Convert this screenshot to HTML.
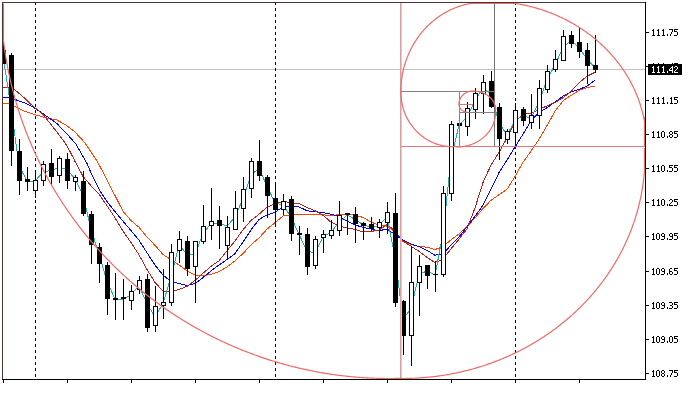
<!DOCTYPE html><html><head><meta charset="utf-8"><style>html,body{margin:0;padding:0;background:#fff;overflow:hidden;}svg{display:block;}text{font-family:"Liberation Sans",sans-serif;}</style></head><body>
<svg width="694" height="400" viewBox="0 0 694 400">
<defs><clipPath id="cl"><rect x="3" y="3" width="642" height="376"/></clipPath></defs>
<rect x="0" y="0" width="694" height="400" fill="#fff"/>
<g clip-path="url(#cl)">
<rect x="3" y="69" width="642" height="1" fill="#c3c3c3"/>
<line x1="35.5" y1="3" x2="35.5" y2="379" stroke="#000" stroke-width="1" stroke-dasharray="3 3" stroke-dashoffset="1" shape-rendering="crispEdges"/>
<line x1="275.5" y1="3" x2="275.5" y2="379" stroke="#000" stroke-width="1" stroke-dasharray="3 3" stroke-dashoffset="1" shape-rendering="crispEdges"/>
<line x1="515.5" y1="3" x2="515.5" y2="379" stroke="#000" stroke-width="1" stroke-dasharray="3 3" stroke-dashoffset="1" shape-rendering="crispEdges"/>
<path d="M2.00,103.40 L10.00,103.68 L14.00,106.22 L25.00,111.51 L35.50,114.77 L46.00,117.79 L56.50,119.91 L65.30,124.62 L74.00,131.02 L85.00,142.91 L97.50,161.74 L104.50,175.09 L111.50,189.33 L115.00,195.61 L123.00,211.25 L131.00,220.61 L139.00,227.25 L147.00,236.95 L155.00,245.35 L163.00,254.52 L171.00,259.52 L179.00,264.92 L187.00,270.79 L195.00,275.02 L203.00,275.85 L211.00,274.29 L219.00,271.74 L227.00,266.94 L235.00,260.83 L243.00,253.54 L251.00,244.84 L259.00,237.92 L267.00,229.17 L275.00,222.73 L283.00,216.00 L291.00,214.78 L299.00,214.52 L307.00,214.40 L315.00,214.32 L323.00,214.85 L331.00,215.45 L339.00,214.73 L347.00,213.97 L355.00,215.02 L363.00,217.45 L371.00,222.03 L379.00,225.07 L387.00,226.10 L395.00,232.30 L403.00,241.30 L411.00,244.52 L419.00,246.61 L427.00,247.18 L435.00,249.53 L443.00,246.80 L451.00,239.75 L459.00,233.82 L467.00,226.70 L475.00,218.00 L483.00,208.44 L491.00,200.27 L499.00,194.74 L507.00,189.37 L515.00,176.54 L523.00,162.26 L531.00,151.14 L539.00,139.26 L547.00,125.64 L555.00,111.26 L563.00,100.79 L571.00,95.42 L579.00,90.49 L587.00,87.69 L595.00,86.11" fill="none" stroke="#ff4500" stroke-width="1" shape-rendering="crispEdges"/>
<path d="M2.00,97.50 L10.00,97.74 L14.00,99.16 L25.00,102.94 L35.50,108.50 L46.00,115.82 L56.50,123.13 L67.00,133.95 L75.80,143.91 L80.00,151.09 L87.00,163.55 L91.00,172.67 L99.00,189.33 L107.00,201.67 L115.00,211.59 L123.00,221.31 L131.00,230.56 L139.00,240.22 L147.00,252.78 L155.00,265.11 L163.00,275.17 L171.00,281.42 L179.00,283.53 L187.00,285.55 L195.00,283.59 L203.00,277.57 L211.00,271.02 L219.00,264.95 L227.00,259.57 L235.00,253.57 L243.00,242.04 L251.00,229.92 L259.00,219.48 L267.00,214.83 L275.00,212.38 L283.00,206.69 L291.00,206.12 L299.00,206.85 L307.00,210.69 L315.00,211.81 L323.00,212.46 L331.00,214.29 L339.00,216.44 L347.00,220.98 L355.00,224.94 L363.00,227.40 L371.00,229.04 L379.00,230.81 L387.00,228.98 L395.00,234.60 L403.00,240.31 L411.00,243.88 L419.00,246.55 L427.00,250.35 L435.00,255.31 L443.00,253.50 L451.00,245.21 L459.00,236.90 L467.00,226.81 L475.00,216.10 L483.00,205.32 L491.00,189.01 L499.00,172.61 L507.00,160.05 L515.00,147.02 L523.00,134.15 L531.00,120.89 L539.00,112.13 L547.00,107.72 L555.00,102.11 L563.00,96.12 L571.00,91.99 L579.00,89.46 L587.00,86.08 L595.00,80.31" fill="none" stroke="#0000ff" stroke-width="1" shape-rendering="crispEdges"/>
<path d="M2.00,87.40 L10.00,87.59 L14.00,89.04 L25.00,98.46 L30.00,103.43 L35.50,108.31 L42.50,113.73 L49.50,122.65 L60.00,136.01 L67.00,145.88 L74.00,159.15 L75.00,161.38 L83.00,176.35 L91.00,185.75 L99.00,194.10 L107.00,205.75 L115.00,217.71 L123.00,231.17 L131.00,242.57 L139.00,254.77 L147.00,269.46 L155.00,282.36 L163.00,291.13 L171.00,291.88 L179.00,289.38 L187.00,286.41 L195.00,280.50 L203.00,273.26 L211.00,266.26 L219.00,260.83 L227.00,250.72 L235.00,240.93 L243.00,229.70 L251.00,220.55 L259.00,214.28 L267.00,207.03 L275.00,203.93 L283.00,201.35 L291.00,202.62 L299.00,203.55 L307.00,207.60 L315.00,210.72 L323.00,215.22 L331.00,222.18 L339.00,226.05 L347.00,227.93 L355.00,229.35 L363.00,231.88 L371.00,231.43 L379.00,230.10 L387.00,224.57 L395.00,230.90 L403.00,241.03 L411.00,246.22 L419.00,251.37 L427.00,257.43 L435.00,262.50 L443.00,259.25 L451.00,248.75 L459.00,239.18 L467.00,228.82 L475.00,207.90 L483.00,182.58 L491.00,165.06 L499.00,152.30 L507.00,137.86 L515.00,121.41 L523.00,114.21 L531.00,113.32 L539.00,109.53 L547.00,105.84 L555.00,102.39 L563.00,97.78 L571.00,91.47 L579.00,82.80 L587.00,76.30 L595.00,72.25" fill="none" stroke="#b22222" stroke-width="1" shape-rendering="crispEdges"/>
<path d="M3.00,56.00 L11.00,107.25 L19.00,165.50 L27.00,181.25 L35.00,181.00 L43.00,172.00 L51.00,170.50 L59.00,167.50 L67.00,169.38 L75.00,178.88 L83.00,195.38 L91.00,229.12 L99.00,254.25 L107.00,281.25 L115.00,299.05 L123.00,299.10 L131.00,294.80 L139.00,285.50 L147.00,303.80 L155.00,316.80 L163.00,303.75 L171.00,276.75 L179.00,245.50 L187.00,253.88 L195.00,254.62 L203.00,233.38 L211.00,223.62 L219.00,223.38 L227.00,226.12 L235.00,217.25 L243.00,198.62 L251.00,174.88 L259.00,168.38 L267.00,186.25 L275.00,202.88 L283.00,205.00 L291.00,217.12 L299.00,234.38 L307.00,251.00 L315.00,253.12 L323.00,236.75 L331.00,232.12 L339.00,222.50 L347.00,215.00 L355.00,219.38 L363.00,224.75 L371.00,227.50 L379.00,225.50 L387.00,216.75 L395.00,257.12 L403.00,319.00 L411.00,308.75 L419.00,274.20 L427.00,271.00 L435.00,275.05 L443.00,233.88 L451.00,158.75 L459.00,125.12 L467.00,117.10 L475.00,100.75 L483.00,87.80 L491.00,94.55 L499.00,122.78 L507.00,135.00 L515.00,120.62 L523.00,115.62 L531.00,118.28 L539.00,101.75 L547.00,79.72 L555.00,65.00 L563.00,47.50 L571.00,40.00 L579.00,47.88 L587.00,59.12 L595.00,67.88" fill="none" stroke="#20b2aa" stroke-width="1" shape-rendering="crispEdges"/>
<g shape-rendering="crispEdges">
<rect x="3" y="36" width="1" height="28" fill="#000"/>
<rect x="1" y="50" width="5" height="14" fill="#000"/>
<rect x="11" y="53" width="1" height="113" fill="#000"/>
<rect x="9" y="55" width="5" height="96" fill="#000"/>
<rect x="19" y="139" width="1" height="56" fill="#000"/>
<rect x="17" y="151" width="5" height="30" fill="#000"/>
<rect x="27" y="167" width="1" height="24" fill="#000"/>
<rect x="25" y="179" width="5" height="3" fill="#000"/>
<rect x="35" y="170" width="1" height="28" fill="#000"/>
<rect x="33.5" y="180.5" width="4" height="10" fill="#fff" stroke="#000" stroke-width="1"/>
<rect x="43" y="161" width="1" height="25" fill="#000"/>
<rect x="41.5" y="164.5" width="4" height="16" fill="#fff" stroke="#000" stroke-width="1"/>
<rect x="51" y="149" width="1" height="36" fill="#000"/>
<rect x="49" y="163" width="5" height="14" fill="#000"/>
<rect x="59" y="156" width="1" height="27" fill="#000"/>
<rect x="57.5" y="158.5" width="4" height="17" fill="#fff" stroke="#000" stroke-width="1"/>
<rect x="67" y="153" width="1" height="36" fill="#000"/>
<rect x="65" y="159" width="5" height="22" fill="#000"/>
<rect x="75" y="175" width="1" height="16" fill="#000"/>
<rect x="73.5" y="177.5" width="4" height="4" fill="#fff" stroke="#000" stroke-width="1"/>
<rect x="83" y="171" width="1" height="45" fill="#000"/>
<rect x="81" y="181" width="5" height="33" fill="#000"/>
<rect x="91" y="211" width="1" height="53" fill="#000"/>
<rect x="89" y="214" width="5" height="31" fill="#000"/>
<rect x="99" y="243" width="1" height="40" fill="#000"/>
<rect x="97" y="247" width="5" height="17" fill="#000"/>
<rect x="107" y="262" width="1" height="53" fill="#000"/>
<rect x="105" y="265" width="5" height="34" fill="#000"/>
<rect x="115" y="273" width="1" height="47" fill="#000"/>
<rect x="113" y="298" width="5" height="2" fill="#000"/>
<rect x="123" y="279" width="1" height="41" fill="#000"/>
<rect x="121" y="297" width="5" height="2" fill="#000"/>
<rect x="131" y="285" width="1" height="25" fill="#000"/>
<rect x="129.5" y="291.5" width="4" height="9" fill="#fff" stroke="#000" stroke-width="1"/>
<rect x="139" y="276" width="1" height="18" fill="#000"/>
<rect x="137.5" y="280.5" width="4" height="9" fill="#fff" stroke="#000" stroke-width="1"/>
<rect x="147" y="274" width="1" height="58" fill="#000"/>
<rect x="145" y="279" width="5" height="49" fill="#000"/>
<rect x="155" y="286" width="1" height="46" fill="#000"/>
<rect x="153.5" y="306.5" width="4" height="19" fill="#fff" stroke="#000" stroke-width="1"/>
<rect x="163" y="269" width="1" height="50" fill="#000"/>
<rect x="161.5" y="302.5" width="4" height="3" fill="#fff" stroke="#000" stroke-width="1"/>
<rect x="171" y="244" width="1" height="62" fill="#000"/>
<rect x="169.5" y="252.5" width="4" height="50" fill="#fff" stroke="#000" stroke-width="1"/>
<rect x="179" y="231" width="1" height="32" fill="#000"/>
<rect x="177.5" y="239.5" width="4" height="11" fill="#fff" stroke="#000" stroke-width="1"/>
<rect x="187" y="236" width="1" height="40" fill="#000"/>
<rect x="185" y="241" width="5" height="28" fill="#000"/>
<rect x="195" y="241" width="1" height="62" fill="#000"/>
<rect x="193.5" y="241.5" width="4" height="25" fill="#fff" stroke="#000" stroke-width="1"/>
<rect x="203" y="205" width="1" height="39" fill="#000"/>
<rect x="201.5" y="226.5" width="4" height="15" fill="#fff" stroke="#000" stroke-width="1"/>
<rect x="211" y="188" width="1" height="52" fill="#000"/>
<rect x="209.5" y="221.5" width="4" height="4" fill="#fff" stroke="#000" stroke-width="1"/>
<rect x="219" y="206" width="1" height="43" fill="#000"/>
<rect x="217" y="220" width="5" height="6" fill="#000"/>
<rect x="227" y="216" width="1" height="43" fill="#000"/>
<rect x="225.5" y="227.5" width="4" height="18" fill="#fff" stroke="#000" stroke-width="1"/>
<rect x="235" y="191" width="1" height="39" fill="#000"/>
<rect x="233.5" y="208.5" width="4" height="21" fill="#fff" stroke="#000" stroke-width="1"/>
<rect x="243" y="177" width="1" height="45" fill="#000"/>
<rect x="241.5" y="189.5" width="4" height="19" fill="#fff" stroke="#000" stroke-width="1"/>
<rect x="251" y="158" width="1" height="40" fill="#000"/>
<rect x="249.5" y="161.5" width="4" height="27" fill="#fff" stroke="#000" stroke-width="1"/>
<rect x="259" y="140" width="1" height="41" fill="#000"/>
<rect x="257" y="161" width="5" height="15" fill="#000"/>
<rect x="267" y="175" width="1" height="43" fill="#000"/>
<rect x="265" y="177" width="5" height="19" fill="#000"/>
<rect x="275" y="183" width="1" height="43" fill="#000"/>
<rect x="273" y="198" width="5" height="12" fill="#000"/>
<rect x="283" y="194" width="1" height="21" fill="#000"/>
<rect x="281.5" y="201.5" width="4" height="8" fill="#fff" stroke="#000" stroke-width="1"/>
<rect x="291" y="196" width="1" height="45" fill="#000"/>
<rect x="289" y="199" width="5" height="35" fill="#000"/>
<rect x="299" y="226" width="1" height="29" fill="#000"/>
<rect x="297" y="233" width="5" height="2" fill="#000"/>
<rect x="307" y="228" width="1" height="47" fill="#000"/>
<rect x="305" y="234" width="5" height="33" fill="#000"/>
<rect x="315" y="236" width="1" height="33" fill="#000"/>
<rect x="313.5" y="239.5" width="4" height="26" fill="#fff" stroke="#000" stroke-width="1"/>
<rect x="323" y="230" width="1" height="23" fill="#000"/>
<rect x="321.5" y="234.5" width="4" height="3" fill="#fff" stroke="#000" stroke-width="1"/>
<rect x="331" y="220" width="1" height="19" fill="#000"/>
<rect x="329.5" y="230.5" width="4" height="5" fill="#fff" stroke="#000" stroke-width="1"/>
<rect x="339" y="201" width="1" height="35" fill="#000"/>
<rect x="337.5" y="215.5" width="4" height="15" fill="#fff" stroke="#000" stroke-width="1"/>
<rect x="347" y="213" width="1" height="22" fill="#000"/>
<rect x="345" y="213" width="5" height="2" fill="#000"/>
<rect x="355" y="207" width="1" height="36" fill="#000"/>
<rect x="353" y="214" width="5" height="10" fill="#000"/>
<rect x="363" y="222" width="1" height="18" fill="#000"/>
<rect x="361" y="223" width="5" height="3" fill="#000"/>
<rect x="371" y="217" width="1" height="14" fill="#000"/>
<rect x="369" y="224" width="5" height="5" fill="#000"/>
<rect x="379" y="219" width="1" height="19" fill="#000"/>
<rect x="377.5" y="222.5" width="4" height="5" fill="#fff" stroke="#000" stroke-width="1"/>
<rect x="387" y="202" width="1" height="32" fill="#000"/>
<rect x="385.5" y="212.5" width="4" height="10" fill="#fff" stroke="#000" stroke-width="1"/>
<rect x="395" y="193" width="1" height="114" fill="#000"/>
<rect x="393" y="213" width="5" height="90" fill="#000"/>
<rect x="403" y="300" width="1" height="55" fill="#000"/>
<rect x="401" y="301" width="5" height="35" fill="#000"/>
<rect x="411" y="246" width="1" height="120" fill="#000"/>
<rect x="409.5" y="282.5" width="4" height="53" fill="#fff" stroke="#000" stroke-width="1"/>
<rect x="419" y="255" width="1" height="61" fill="#000"/>
<rect x="417.5" y="266.5" width="4" height="16" fill="#fff" stroke="#000" stroke-width="1"/>
<rect x="427" y="265" width="1" height="24" fill="#000"/>
<rect x="425" y="265" width="5" height="11" fill="#000"/>
<rect x="435" y="261" width="1" height="31" fill="#000"/>
<rect x="433" y="274" width="5" height="1" fill="#000"/>
<rect x="443" y="186" width="1" height="91" fill="#000"/>
<rect x="441.5" y="193.5" width="4" height="81" fill="#fff" stroke="#000" stroke-width="1"/>
<rect x="451" y="121" width="1" height="80" fill="#000"/>
<rect x="449.5" y="124.5" width="4" height="69" fill="#fff" stroke="#000" stroke-width="1"/>
<rect x="459" y="121" width="1" height="9" fill="#000"/>
<rect x="457" y="123" width="5" height="3" fill="#000"/>
<rect x="467" y="102" width="1" height="34" fill="#000"/>
<rect x="465.5" y="108.5" width="4" height="18" fill="#fff" stroke="#000" stroke-width="1"/>
<rect x="475" y="88" width="1" height="31" fill="#000"/>
<rect x="473.5" y="93.5" width="4" height="16" fill="#fff" stroke="#000" stroke-width="1"/>
<rect x="483" y="75" width="1" height="39" fill="#000"/>
<rect x="481.5" y="82.5" width="4" height="11" fill="#fff" stroke="#000" stroke-width="1"/>
<rect x="491" y="71" width="1" height="37" fill="#000"/>
<rect x="489" y="81" width="5" height="26" fill="#000"/>
<rect x="499" y="103" width="1" height="57" fill="#000"/>
<rect x="497" y="107" width="5" height="32" fill="#000"/>
<rect x="507" y="129" width="1" height="15" fill="#000"/>
<rect x="505.5" y="131.5" width="4" height="8" fill="#fff" stroke="#000" stroke-width="1"/>
<rect x="515" y="103" width="1" height="45" fill="#000"/>
<rect x="513.5" y="110.5" width="4" height="22" fill="#fff" stroke="#000" stroke-width="1"/>
<rect x="523" y="107" width="1" height="19" fill="#000"/>
<rect x="521" y="109" width="5" height="12" fill="#000"/>
<rect x="531" y="94" width="1" height="35" fill="#000"/>
<rect x="529.5" y="115.5" width="4" height="7" fill="#fff" stroke="#000" stroke-width="1"/>
<rect x="539" y="80" width="1" height="49" fill="#000"/>
<rect x="537.5" y="88.5" width="4" height="27" fill="#fff" stroke="#000" stroke-width="1"/>
<rect x="547" y="65" width="1" height="28" fill="#000"/>
<rect x="545.5" y="71.5" width="4" height="18" fill="#fff" stroke="#000" stroke-width="1"/>
<rect x="555" y="50" width="1" height="22" fill="#000"/>
<rect x="553.5" y="59.5" width="4" height="10" fill="#fff" stroke="#000" stroke-width="1"/>
<rect x="563" y="30" width="1" height="31" fill="#000"/>
<rect x="561.5" y="36.5" width="4" height="24" fill="#fff" stroke="#000" stroke-width="1"/>
<rect x="571" y="31" width="1" height="17" fill="#000"/>
<rect x="569" y="35" width="5" height="9" fill="#000"/>
<rect x="579" y="28" width="1" height="30" fill="#000"/>
<rect x="577" y="42" width="5" height="10" fill="#000"/>
<rect x="587" y="43" width="1" height="41" fill="#000"/>
<rect x="585" y="50" width="5" height="16" fill="#000"/>
<rect x="595" y="35" width="1" height="38" fill="#000"/>
<rect x="593" y="65" width="5" height="5" fill="#000"/>
</g>
<g shape-rendering="crispEdges">
<rect x="400" y="3" width="1" height="376" fill="#d8a0a0"/>
<rect x="401" y="3" width="1" height="376" fill="#f8c0c0"/>
<rect x="401" y="146" width="244" height="1" fill="#e07878"/>
<rect x="494" y="3" width="1" height="143" fill="#707070"/>
<rect x="401" y="91" width="93" height="1" fill="#8c7d7d"/>
<rect x="459" y="92" width="1" height="54" fill="#8c8080"/>
<rect x="460" y="112" width="34" height="1" fill="#8c7d7d"/>
<rect x="460" y="104" width="13" height="1" fill="#e07878"/>
</g>
<path d="M402.53,378.27 L401.73,378.29 L400.94,378.32 L400.15,378.34 L399.36,378.36 L398.57,378.38 L397.78,378.40 L396.99,378.42 L396.20,378.43 L395.41,378.45 L394.61,378.46 L393.82,378.47 L393.03,378.48 L392.24,378.49 L391.45,378.49 L390.66,378.50 L389.87,378.50 L389.07,378.50 L388.28,378.50 L387.49,378.50 L386.70,378.49 L385.91,378.49 L385.12,378.48 L384.32,378.47 L383.53,378.46 L382.74,378.45 L381.95,378.44 L381.16,378.42 L380.37,378.41 L379.58,378.39 L378.79,378.37 L377.99,378.35 L377.20,378.32 L376.41,378.30 L375.62,378.27 L374.83,378.25 L374.04,378.22 L373.25,378.19 L372.46,378.15 L371.67,378.12 L370.88,378.08 L370.09,378.05 L369.30,378.01 L368.50,377.97 L367.71,377.93 L366.92,377.88 L366.13,377.84 L365.34,377.79 L364.55,377.74 L363.76,377.69 L362.97,377.64 L362.18,377.59 L361.40,377.53 L360.61,377.48 L359.82,377.42 L359.03,377.36 L358.24,377.30 L357.45,377.24 L356.66,377.17 L355.87,377.11 L355.08,377.04 L354.30,376.97 L353.51,376.90 L352.72,376.83 L351.93,376.75 L351.14,376.68 L350.36,376.60 L349.57,376.52 L348.78,376.44 L347.99,376.36 L347.21,376.28 L346.42,376.19 L345.63,376.11 L344.85,376.02 L344.06,375.93 L343.27,375.84 L342.49,375.75 L341.70,375.65 L340.92,375.56 L340.13,375.46 L339.35,375.36 L338.56,375.26 L337.78,375.16 L336.99,375.05 L336.21,374.95 L335.42,374.84 L334.64,374.73 L333.86,374.62 L333.07,374.51 L332.29,374.40 L331.51,374.29 L330.73,374.17 L329.94,374.05 L329.16,373.93 L328.38,373.81 L327.60,373.69 L326.82,373.56 L326.04,373.44 L325.25,373.31 L324.47,373.18 L323.69,373.05 L322.91,372.92 L322.13,372.79 L321.35,372.65 L320.57,372.51 L319.80,372.38 L319.02,372.24 L318.24,372.10 L317.46,371.95 L316.68,371.81 L315.91,371.66 L315.13,371.51 L314.35,371.37 L313.57,371.21 L312.80,371.06 L312.02,370.91 L311.25,370.75 L310.47,370.60 L309.70,370.44 L308.92,370.28 L308.15,370.12 L307.37,369.95 L306.60,369.79 L305.83,369.62 L305.05,369.45 L304.28,369.29 L303.51,369.11 L302.74,368.94 L301.97,368.77 L301.19,368.59 L300.42,368.41 L299.65,368.24 L298.88,368.06 L298.11,367.87 L297.34,367.69 L296.58,367.51 L295.81,367.32 L295.04,367.13 L294.27,366.94 L293.50,366.75 L292.74,366.56 L291.97,366.36 L291.20,366.17 L290.44,365.97 L289.67,365.77 L288.91,365.57 L288.14,365.37 L287.38,365.17 L286.62,364.96 L285.85,364.76 L285.09,364.55 L284.33,364.34 L283.57,364.13 L282.80,363.92 L282.04,363.70 L281.28,363.49 L280.52,363.27 L279.76,363.05 L279.00,362.83 L278.24,362.61 L277.49,362.39 L276.73,362.16 L275.97,361.93 L275.21,361.71 L274.46,361.48 L273.70,361.25 L272.95,361.01 L272.19,360.78 L271.44,360.54 L270.68,360.31 L269.93,360.07 L269.18,359.83 L268.42,359.59 L267.67,359.35 L266.92,359.10 L266.17,358.85 L265.42,358.61 L264.67,358.36 L263.92,358.11 L263.17,357.86 L262.42,357.60 L261.67,357.35 L260.93,357.09 L260.18,356.83 L259.43,356.57 L258.69,356.31 L257.94,356.05 L257.20,355.79 L256.45,355.52 L255.71,355.25 L254.97,354.99 L254.22,354.72 L253.48,354.44 L252.74,354.17 L252.00,353.90 L251.26,353.62 L250.52,353.34 L249.78,353.06 L249.04,352.78 L248.30,352.50 L247.57,352.22 L246.83,351.93 L246.09,351.65 L245.36,351.36 L244.62,351.07 L243.89,350.78 L243.15,350.49 L242.42,350.19 L241.69,349.90 L240.96,349.60 L240.23,349.30 L239.49,349.00 L238.76,348.70 L238.03,348.40 L237.31,348.10 L236.58,347.79 L235.85,347.48 L235.12,347.18 L234.40,346.87 L233.67,346.56 L232.95,346.24 L232.22,345.93 L231.50,345.61 L230.77,345.30 L230.05,344.98 L229.33,344.66 L228.61,344.34 L227.89,344.01 L227.17,343.69 L226.45,343.36 L225.73,343.04 L225.01,342.71 L224.30,342.38 L223.58,342.05 L222.87,341.71 L222.15,341.38 L221.44,341.04 L220.72,340.70 L220.01,340.37 L219.30,340.03 L218.59,339.68 L217.88,339.34 L217.17,339.00 L216.46,338.65 L215.75,338.30 L215.04,337.95 L214.33,337.60 L213.63,337.25 L212.92,336.90 L212.21,336.55 L211.51,336.19 L210.81,335.83 L210.10,335.47 L209.40,335.11 L208.70,334.75 L208.00,334.39 L207.30,334.03 L206.60,333.66 L205.90,333.29 L205.21,332.92 L204.51,332.55 L203.81,332.18 L203.12,331.81 L202.42,331.44 L201.73,331.06 L201.04,330.68 L200.34,330.31 L199.65,329.93 L198.96,329.55 L198.27,329.16 L197.58,328.78 L196.90,328.39 L196.21,328.01 L195.52,327.62 L194.84,327.23 L194.15,326.84 L193.47,326.45 L192.78,326.05 L192.10,325.66 L191.42,325.26 L190.74,324.87 L190.06,324.47 L189.38,324.07 L188.70,323.66 L188.02,323.26 L187.35,322.86 L186.67,322.45 L186.00,322.04 L185.32,321.64 L184.65,321.23 L183.98,320.82 L183.30,320.40 L182.63,319.99 L181.96,319.57 L181.29,319.16 L180.63,318.74 L179.96,318.32 L179.29,317.90 L178.63,317.48 L177.96,317.05 L177.30,316.63 L176.64,316.20 L175.97,315.78 L175.31,315.35 L174.65,314.92 L173.99,314.49 L173.33,314.05 L172.68,313.62 L172.02,313.19 L171.36,312.75 L170.71,312.31 L170.05,311.87 L169.40,311.43 L168.75,310.99 L168.10,310.55 L167.45,310.10 L166.80,309.66 L166.15,309.21 L165.50,308.76 L164.86,308.31 L164.21,307.86 L163.57,307.41 L162.92,306.96 L162.28,306.50 L161.64,306.04 L161.00,305.59 L160.36,305.13 L159.72,304.67 L159.08,304.21 L158.44,303.74 L157.80,303.28 L157.17,302.82 L156.53,302.35 L155.90,301.88 L155.27,301.41 L154.64,300.94 L154.01,300.47 L153.38,300.00 L152.75,299.53 L152.12,299.05 L151.50,298.57 L150.87,298.10 L150.25,297.62 L149.62,297.14 L149.00,296.66 L148.38,296.17 L147.76,295.69 L147.14,295.20 L146.52,294.72 L145.90,294.23 L145.28,293.74 L144.67,293.25 L144.05,292.76 L143.44,292.27 L142.83,291.77 L142.22,291.28 L141.61,290.78 L141.00,290.28 L140.39,289.78 L139.78,289.28 L139.18,288.78 L138.57,288.28 L137.97,287.78 L137.36,287.27 L136.76,286.77 L136.16,286.26 L135.56,285.75 L134.96,285.24 L134.36,284.73 L133.77,284.22 L133.17,283.70 L132.58,283.19 L131.98,282.67 L131.39,282.16 L130.80,281.64 L130.21,281.12 L129.62,280.60 L129.03,280.08 L128.44,279.56 L127.86,279.03 L127.27,278.51 L126.69,277.98 L126.10,277.45 L125.52,276.92 L124.94,276.39 L124.36,275.86 L123.78,275.33 L123.21,274.80 L122.63,274.26 L122.06,273.73 L121.48,273.19 L120.91,272.65 L120.34,272.11 L119.77,271.57 L119.20,271.03 L118.63,270.49 L118.06,269.95 L117.49,269.40 L116.93,268.86 L116.37,268.31 L115.80,267.76 L115.24,267.21 L114.68,266.66 L114.12,266.11 L113.56,265.56 L113.01,265.00 L112.45,264.45 L111.89,263.89 L111.34,263.33 L110.79,262.78 L110.24,262.22 L109.69,261.66 L109.14,261.09 L108.59,260.53 L108.04,259.97 L107.50,259.40 L106.95,258.84 L106.41,258.27 L105.87,257.70 L105.33,257.13 L104.79,256.56 L104.25,255.99 L103.71,255.42 L103.18,254.84 L102.64,254.27 L102.11,253.69 L101.57,253.12 L101.04,252.54 L100.51,251.96 L99.98,251.38 L99.46,250.80 L98.93,250.22 L98.40,249.63 L97.88,249.05 L97.36,248.46 L96.84,247.88 L96.32,247.29 L95.80,246.70 L95.28,246.11 L94.76,245.52 L94.25,244.93 L93.73,244.34 L93.22,243.74 L92.71,243.15 L92.20,242.55 L91.69,241.96 L91.18,241.36 L90.67,240.76 L90.16,240.16 L89.66,239.56 L89.16,238.96 L88.66,238.36 L88.15,237.75 L87.65,237.15 L87.16,236.54 L86.66,235.93 L86.16,235.33 L85.67,234.72 L85.18,234.11 L84.68,233.50 L84.19,232.89 L83.70,232.27 L83.22,231.66 L82.73,231.04 L82.24,230.43 L81.76,229.81 L81.28,229.19 L80.79,228.58 L80.31,227.96 L79.83,227.34 L79.36,226.71 L78.88,226.09 L78.40,225.47 L77.93,224.84 L77.46,224.22 L76.99,223.59 L76.52,222.97 L76.05,222.34 L75.58,221.71 L75.11,221.08 L74.65,220.45 L74.18,219.82 L73.72,219.18 L73.26,218.55 L72.80,217.91 L72.34,217.28 L71.89,216.64 L71.43,216.00 L70.98,215.37 L70.52,214.73 L70.07,214.09 L69.62,213.45 L69.17,212.80 L68.72,212.16 L68.28,211.52 L67.83,210.87 L67.39,210.23 L66.95,209.58 L66.50,208.93 L66.06,208.28 L65.63,207.64 L65.19,206.99 L64.75,206.33 L64.32,205.68 L63.89,205.03 L63.45,204.38 L63.02,203.72 L62.59,203.07 L62.17,202.41 L61.74,201.75 L61.32,201.10 L60.89,200.44 L60.47,199.78 L60.05,199.12 L59.63,198.46 L59.21,197.79 L58.79,197.13 L58.38,196.47 L57.97,195.80 L57.55,195.14 L57.14,194.47 L56.73,193.80 L56.32,193.14 L55.92,192.47 L55.51,191.80 L55.11,191.13 L54.70,190.46 L54.30,189.79 L53.90,189.11 L53.50,188.44 L53.11,187.76 L52.71,187.09 L52.31,186.41 L51.92,185.74 L51.53,185.06 L51.14,184.38 L50.75,183.70 L50.36,183.02 L49.98,182.34 L49.59,181.66 L49.21,180.98 L48.83,180.30 L48.45,179.61 L48.07,178.93 L47.69,178.24 L47.31,177.56 L46.94,176.87 L46.56,176.18 L46.19,175.49 L45.82,174.80 L45.45,174.12 L45.09,173.42 L44.72,172.73 L44.35,172.04 L43.99,171.35 L43.63,170.66 L43.27,169.96 L42.91,169.27 L42.55,168.57 L42.20,167.87 L41.84,167.18 L41.49,166.48 L41.14,165.78 L40.79,165.08 L40.44,164.38 L40.09,163.68 L39.74,162.98 L39.40,162.28 L39.05,161.58 L38.71,160.87 L38.37,160.17 L38.03,159.46 L37.70,158.76 L37.36,158.05 L37.03,157.35 L36.69,156.64 L36.36,155.93 L36.03,155.22 L35.70,154.51 L35.38,153.80 L35.05,153.09 L34.73,152.38 L34.40,151.67 L34.08,150.96 L33.76,150.24 L33.44,149.53 L33.13,148.81 L32.81,148.10 L32.50,147.38 L32.19,146.67 L31.88,145.95 L31.57,145.23 L31.26,144.51 L30.95,143.80 L30.65,143.08 L30.34,142.36 L30.04,141.64 L29.74,140.91 L29.44,140.19 L29.14,139.47 L28.85,138.75 L28.55,138.02 L28.26,137.30 L27.97,136.57 L27.68,135.85 L27.39,135.12 L27.10,134.40 L26.82,133.67 L26.53,132.94 L26.25,132.21 L25.97,131.48 L25.69,130.75 L25.41,130.02 L25.14,129.29 L24.86,128.56 L24.59,127.83 L24.32,127.10 L24.05,126.36 L23.78,125.63 L23.51,124.90 L23.25,124.16 L22.98,123.43 L22.72,122.69 L22.46,121.96 L22.20,121.22 L21.94,120.48 L21.68,119.75 L21.43,119.01 L21.17,118.27 L20.92,117.53 L20.67,116.79 L20.42,116.05 L20.18,115.31 L19.93,114.57 L19.68,113.83 L19.44,113.08 L19.20,112.34 L18.96,111.60 L18.72,110.85 L18.49,110.11 L18.25,109.37 L18.02,108.62 L17.78,107.88 L17.55,107.13 L17.33,106.38 L17.10,105.64 L16.87,104.89 L16.65,104.14 L16.42,103.39 L16.20,102.65 L15.98,101.90 L15.77,101.15 L15.55,100.40 L15.33,99.65 L15.12,98.90 L14.91,98.14 L14.70,97.39 L14.49,96.64 L14.28,95.89 L14.08,95.14 L13.87,94.38 L13.67,93.63 L13.47,92.87 L13.27,92.12 L13.07,91.36 L12.88,90.61 L12.68,89.85 L12.49,89.10 L12.30,88.34 L12.11,87.58 L11.92,86.83 L11.73,86.07 L11.54,85.31 L11.36,84.55 L11.18,83.79 L11.00,83.03 L10.82,82.28 L10.64,81.52 L10.47,80.76 L10.29,79.99 L10.12,79.23 L9.95,78.47 L9.78,77.71 L9.61,76.95 L9.44,76.19 L9.28,75.42 L9.11,74.66 L8.95,73.90 L8.79,73.13 L8.63,72.37 L8.48,71.61 L8.32,70.84 L8.17,70.08 L8.02,69.31 L7.86,68.55 L7.72,67.78 L7.57,67.01 L7.42,66.25 L7.28,65.48 L7.13,64.71 L6.99,63.95 L6.85,63.18 L6.72,62.41 L6.58,61.64 L6.44,60.88 L6.31,60.11 L6.18,59.34 L6.05,58.57 L5.92,57.80 L5.79,57.03 L5.67,56.26 L5.55,55.49 L5.42,54.72 L5.30,53.95 L5.18,53.18 L5.07,52.41 L4.95,51.64 L4.84,50.86 L4.72,50.09 L4.61,49.32 L4.50,48.55 L4.40,47.78 L4.29,47.00 L4.19,46.23 L4.08,45.46 L3.98,44.68 L3.88,43.91 L3.78,43.14 L3.69,42.36 L3.59,41.59 L3.50,40.81 L3.50,40.04 L3.50,39.27 L3.50,38.49 L3.50,37.72 L3.50,36.94 L3.50,36.17 L3.50,35.39 L3.50,34.61 L3.50,33.84 L3.50,33.06 L3.50,32.29 L3.50,31.51 L3.50,30.73 L3.50,29.96 L3.50,29.18 L3.50,28.40 L3.50,27.63 L3.50,26.85 L3.50,26.07 L3.50,25.29 L3.50,24.52 L3.50,23.74 L3.50,22.96 L3.50,22.18 L3.50,21.41 L3.50,20.63 L3.50,19.85 L3.50,19.07 L3.50,18.29 L3.50,17.51 L3.50,16.74 L3.50,15.96 L3.50,15.18 L3.50,14.40 L3.50,13.62 L3.50,12.84 L3.50,12.06 L3.50,11.28 L3.50,10.51 L3.50,9.73 L3.50,8.95 L3.50,8.17 L3.50,7.39 L3.50,6.61 L3.50,5.83 L3.50,5.05 L3.50,4.27 L3.50,3.50 L3.50,3.50 L3.50,3.50 L3.50,3.50 L3.50,3.50 L3.50,3.50 L3.50,3.50 L3.50,3.50 L3.50,3.50 L3.50,3.50 L3.50,3.50 L3.50,3.50 L3.50,3.50 L3.50,3.50 L3.50,3.50 L3.50,3.50 L3.50,3.50 L3.50,3.50 L3.50,3.50 M644.50,148.06 L644.50,148.81 L644.50,149.56 L644.50,150.32 L644.50,151.07 L644.50,151.82 L644.50,152.58 L644.50,153.33 L644.50,154.08 L644.50,154.84 L644.50,155.59 L644.50,156.34 L644.50,157.10 L644.50,157.85 L644.50,158.60 L644.50,159.36 L644.50,160.11 L644.50,160.86 L644.50,161.61 L644.50,162.37 L644.50,163.12 L644.50,163.87 L644.50,164.63 L644.50,165.38 L644.50,166.13 L644.50,166.88 L644.50,167.64 L644.50,168.39 L644.50,169.14 L644.50,169.89 L644.44,170.64 L644.39,171.39 L644.33,172.15 L644.27,172.90 L644.20,173.65 L644.14,174.40 L644.07,175.15 L643.99,175.90 L643.92,176.65 L643.84,177.40 L643.76,178.15 L643.67,178.90 L643.59,179.65 L643.50,180.40 L643.41,181.14 L643.31,181.89 L643.22,182.64 L643.11,183.39 L643.01,184.14 L642.91,184.88 L642.80,185.63 L642.69,186.38 L642.57,187.12 L642.46,187.87 L642.34,188.61 L642.21,189.36 L642.09,190.10 L641.96,190.85 L641.83,191.59 L641.70,192.33 L641.56,193.08 L641.42,193.82 L641.28,194.56 L641.14,195.30 L640.99,196.04 L640.84,196.78 L640.69,197.52 L640.53,198.26 L640.38,199.00 L640.22,199.74 L640.05,200.48 L639.89,201.22 L639.72,201.95 L639.55,202.69 L639.37,203.43 L639.20,204.16 L639.02,204.90 L638.83,205.63 L638.65,206.36 L638.46,207.10 L638.27,207.83 L638.08,208.56 L637.88,209.29 L637.69,210.03 L637.48,210.76 L637.28,211.49 L637.07,212.21 L636.86,212.94 L636.65,213.67 L636.44,214.40 L636.22,215.12 L636.00,215.85 L635.78,216.57 L635.55,217.30 L635.33,218.02 L635.10,218.75 L634.86,219.47 L634.63,220.19 L634.39,220.91 L634.15,221.63 L633.90,222.35 L633.66,223.07 L633.41,223.78 L633.16,224.50 L632.90,225.22 L632.64,225.93 L632.38,226.65 L632.12,227.36 L631.86,228.07 L631.59,228.79 L631.32,229.50 L631.05,230.21 L630.77,230.92 L630.49,231.63 L630.21,232.33 L629.93,233.04 L629.64,233.75 L629.35,234.45 L629.06,235.16 L628.77,235.86 L628.47,236.56 L628.18,237.26 L627.87,237.96 L627.57,238.66 L627.26,239.36 L626.95,240.06 L626.64,240.76 L626.33,241.45 L626.01,242.15 L625.69,242.84 L625.37,243.53 L625.05,244.23 L624.72,244.92 L624.39,245.61 L624.06,246.30 L623.72,246.98 L623.38,247.67 L623.05,248.36 L622.70,249.04 L622.36,249.72 L622.01,250.41 L621.66,251.09 L621.31,251.77 L620.95,252.45 L620.60,253.13 L620.24,253.80 L619.87,254.48 L619.51,255.15 L619.14,255.83 L618.77,256.50 L618.40,257.17 L618.03,257.84 L617.65,258.51 L617.27,259.18 L616.89,259.84 L616.50,260.51 L616.12,261.17 L615.73,261.84 L615.33,262.50 L614.94,263.16 L614.54,263.82 L614.14,264.48 L613.74,265.13 L613.34,265.79 L612.93,266.44 L612.52,267.10 L612.11,267.75 L611.70,268.40 L611.28,269.05 L610.86,269.70 L610.44,270.34 L610.02,270.99 L609.59,271.63 L609.17,272.27 L608.74,272.92 L608.30,273.56 L607.87,274.19 L607.43,274.83 L606.99,275.47 L606.55,276.10 L606.10,276.73 L605.66,277.37 L605.21,278.00 L604.76,278.63 L604.30,279.25 L603.85,279.88 L603.39,280.50 L602.93,281.13 L602.47,281.75 L602.00,282.37 L601.53,282.99 L601.06,283.61 L600.59,284.22 L600.12,284.84 L599.64,285.45 L599.16,286.06 L598.68,286.67 L598.20,287.28 L597.71,287.89 L597.22,288.49 L596.73,289.10 L596.24,289.70 L595.75,290.30 L595.25,290.90 L594.75,291.50 L594.25,292.10 L593.75,292.69 L593.24,293.29 L592.73,293.88 L592.22,294.47 L591.71,295.06 L591.20,295.64 L590.68,296.23 L590.16,296.81 L589.64,297.39 L589.12,297.98 L588.59,298.55 L588.07,299.13 L587.54,299.71 L587.01,300.28 L586.47,300.85 L585.94,301.42 L585.40,301.99 L584.86,302.56 L584.32,303.13 L583.78,303.69 L583.23,304.25 L582.68,304.81 L582.13,305.37 L581.58,305.93 L581.02,306.49 L580.47,307.04 L579.91,307.59 L579.35,308.14 L578.79,308.69 L578.22,309.24 L577.66,309.78 L577.09,310.33 L576.52,310.87 L575.95,311.41 L575.37,311.94 L574.80,312.48 L574.22,313.01 L573.64,313.55 L573.05,314.08 L572.47,314.61 L571.88,315.13 L571.30,315.66 L570.71,316.18 L570.11,316.71 L569.52,317.22 L568.92,317.74 L568.33,318.26 L567.73,318.77 L567.13,319.29 L566.52,319.80 L565.92,320.31 L565.31,320.81 L564.70,321.32 L564.09,321.82 L563.48,322.32 L562.86,322.82 L562.25,323.32 L561.63,323.81 L561.01,324.31 L560.39,324.80 L559.76,325.29 L559.14,325.78 L558.51,326.26 L557.88,326.74 L557.25,327.23 L556.62,327.71 L555.98,328.18 L555.35,328.66 L554.71,329.13 L554.07,329.61 L553.43,330.08 L552.79,330.54 L552.14,331.01 L551.50,331.47 L550.85,331.94 L550.20,332.40 L549.55,332.85 L548.89,333.31 L548.24,333.76 L547.58,334.22 L546.92,334.67 L546.26,335.11 L545.60,335.56 L544.94,336.00 L544.27,336.44 L543.61,336.88 L542.94,337.32 L542.27,337.76 L541.60,338.19 L540.93,338.62 L540.25,339.05 L539.57,339.48 L538.90,339.90 L538.22,340.32 L537.54,340.74 L536.86,341.16 L536.17,341.58 L535.49,341.99 L534.80,342.41 L534.11,342.82 L533.42,343.22 L532.73,343.63 L532.04,344.03 L531.34,344.44 L530.65,344.83 L529.95,345.23 L529.25,345.63 L528.55,346.02 L527.85,346.41 L527.15,346.80 L526.44,347.18 L525.74,347.57 L525.03,347.95 L524.32,348.33 L523.61,348.71 L522.90,349.08 L522.18,349.46 L521.47,349.83 L520.76,350.20 L520.04,350.56 L519.32,350.93 L518.60,351.29 L517.88,351.65 L517.16,352.01 L516.43,352.36 L515.71,352.71 L514.98,353.06 L514.25,353.41 L513.53,353.76 L512.80,354.10 L512.06,354.44 L511.33,354.78 L510.60,355.12 L509.86,355.46 L509.13,355.79 L508.39,356.12 L507.65,356.45 L506.91,356.77 L506.17,357.10 L505.43,357.42 L504.68,357.74 L503.94,358.05 L503.19,358.37 L502.45,358.68 L501.70,358.99 L500.95,359.29 L500.20,359.60 L499.45,359.90 L498.69,360.20 L497.94,360.50 L497.19,360.80 L496.43,361.09 L495.67,361.38 L494.91,361.67 L494.16,361.95 L493.40,362.24 L492.63,362.52 L491.87,362.80 L491.11,363.08 L490.34,363.35 L489.58,363.62 L488.81,363.89 L488.05,364.16 L487.28,364.42 L486.51,364.69 L485.74,364.95 L484.97,365.20 L484.19,365.46 L483.42,365.71 L482.65,365.96 L481.87,366.21 L481.10,366.45 L480.32,366.70 L479.54,366.94 L478.76,367.18 L477.99,367.41 L477.20,367.65 L476.42,367.88 L475.64,368.11 L474.86,368.33 L474.08,368.56 L473.29,368.78 L472.51,369.00 L471.72,369.21 L470.93,369.43 L470.15,369.64 L469.36,369.85 L468.57,370.05 L467.78,370.26 L466.99,370.46 L466.20,370.66 L465.40,370.86 L464.61,371.05 L463.82,371.24 L463.02,371.43 L462.23,371.62 L461.43,371.80 L460.64,371.99 L459.84,372.17 L459.04,372.34 L458.24,372.52 L457.45,372.69 L456.65,372.86 L455.85,373.03 L455.05,373.19 L454.24,373.35 L453.44,373.51 L452.64,373.67 L451.84,373.83 L451.03,373.98 L450.23,374.13 L449.42,374.27 L448.62,374.42 L447.81,374.56 L447.01,374.70 L446.20,374.84 L445.39,374.97 L444.58,375.11 L443.78,375.24 L442.97,375.36 L442.16,375.49 L441.35,375.61 L440.54,375.73 L439.73,375.85 L438.92,375.96 L438.10,376.07 L437.29,376.18 L436.48,376.29 L435.67,376.39 L434.85,376.50 L434.04,376.60 L433.23,376.69 L432.41,376.79 L431.60,376.88 L430.78,376.97 L429.97,377.06 L429.15,377.14 L428.34,377.22 L427.52,377.30 L426.71,377.38 L425.89,377.45 L425.07,377.52 L424.25,377.59 L423.44,377.66 L422.62,377.72 L421.80,377.79 L420.98,377.84 L420.17,377.90 L419.35,377.96 L418.53,378.01 L417.71,378.06 L416.89,378.10 L416.07,378.15 L415.25,378.19 L414.43,378.23 L413.61,378.26 L412.79,378.30 L411.97,378.33 L411.15,378.35 L410.33,378.38 L409.51,378.40 L408.69,378.42 L407.87,378.44 L407.05,378.46 L406.23,378.47 L405.41,378.48 L404.59,378.49 L403.77,378.50 L402.95,378.50 L402.13,378.50 L401.31,378.50 L400.49,378.49 L399.67,378.49 L398.85,378.48 L398.03,378.46 L397.20,378.45 L396.38,378.43 L395.56,378.41 L394.74,378.39 L393.92,378.36 M482.64,3.50 L483.47,3.50 L484.29,3.50 L485.12,3.50 L485.94,3.50 L486.77,3.50 L487.60,3.50 L488.42,3.50 L489.25,3.50 L490.07,3.50 L490.90,3.50 L491.73,3.50 L492.55,3.50 L493.38,3.50 L494.20,3.50 L495.03,3.50 L495.85,3.50 L496.68,3.50 L497.50,3.50 L498.33,3.50 L499.15,3.50 L499.98,3.50 L500.80,3.50 L501.62,3.50 L502.45,3.50 L503.27,3.50 L504.09,3.50 L504.91,3.50 L505.73,3.50 L506.56,3.50 L507.38,3.50 L508.20,3.50 L509.01,3.50 L509.83,3.50 L510.65,3.50 L511.47,3.50 L512.29,3.50 L513.10,3.50 L513.92,3.50 L514.73,3.50 L515.55,3.50 L516.36,3.60 L517.17,3.73 L517.98,3.87 L518.80,4.02 L519.61,4.16 L520.41,4.31 L521.22,4.47 L522.03,4.63 L522.84,4.79 L523.64,4.95 L524.45,5.12 L525.25,5.30 L526.05,5.47 L526.86,5.65 L527.66,5.84 L528.46,6.03 L529.25,6.22 L530.05,6.41 L530.85,6.61 L531.64,6.82 L532.44,7.03 L533.23,7.24 L534.02,7.45 L534.81,7.67 L535.60,7.89 L536.39,8.12 L537.17,8.35 L537.96,8.58 L538.74,8.82 L539.52,9.06 L540.31,9.30 L541.09,9.55 L541.86,9.80 L542.64,10.06 L543.41,10.32 L544.19,10.58 L544.96,10.85 L545.73,11.12 L546.50,11.39 L547.27,11.67 L548.03,11.95 L548.80,12.23 L549.56,12.52 L550.32,12.81 L551.08,13.11 L551.84,13.41 L552.59,13.71 L553.35,14.02 L554.10,14.32 L554.85,14.64 L555.60,14.95 L556.34,15.27 L557.09,15.60 L557.83,15.93 L558.57,16.26 L559.31,16.59 L560.05,16.93 L560.79,17.27 L561.52,17.61 L562.25,17.96 L562.98,18.31 L563.71,18.67 L564.43,19.03 L565.15,19.39 L565.88,19.76 L566.59,20.12 L567.31,20.50 L568.03,20.87 L568.74,21.25 L569.45,21.63 L570.16,22.02 L570.86,22.41 L571.57,22.80 L572.27,23.19 L572.97,23.59 L573.66,24.00 L574.36,24.40 L575.05,24.81 L575.74,25.22 L576.43,25.64 L577.11,26.06 L577.80,26.48 L578.48,26.90 L579.15,27.33 L579.83,27.76 L580.50,28.20 L581.17,28.63 L581.84,29.07 L582.50,29.52 L583.17,29.97 L583.83,30.42 L584.48,30.87 L585.14,31.33 L585.79,31.79 L586.44,32.25 L587.09,32.71 L587.73,33.18 L588.37,33.65 L589.01,34.13 L589.65,34.61 L590.28,35.09 L590.91,35.57 L591.54,36.06 L592.16,36.55 L592.78,37.04 L593.40,37.54 L594.02,38.03 L594.63,38.54 L595.24,39.04 L595.85,39.55 L596.46,40.06 L597.06,40.57 L597.66,41.09 L598.25,41.60 L598.85,42.13 L599.44,42.65 L600.02,43.18 L600.61,43.71 L601.19,44.24 L601.76,44.77 L602.34,45.31 L602.91,45.85 L603.48,46.40 L604.04,46.94 L604.61,47.49 L605.16,48.04 L605.72,48.60 L606.27,49.15 L606.82,49.71 L607.37,50.27 L607.91,50.84 L608.45,51.40 L608.99,51.97 L609.52,52.55 L610.05,53.12 L610.57,53.70 L611.10,54.28 L611.62,54.86 L612.13,55.44 L612.65,56.03 L613.16,56.62 L613.66,57.21 L614.17,57.80 L614.66,58.40 L615.16,59.00 L615.65,59.60 L616.14,60.20 L616.63,60.81 L617.11,61.42 L617.59,62.03 L618.06,62.64 L618.53,63.25 L619.00,63.87 L619.47,64.49 L619.93,65.11 L620.39,65.73 L620.84,66.36 L621.29,66.99 L621.74,67.62 L622.18,68.25 L622.62,68.88 L623.05,69.52 L623.48,70.16 L623.91,70.80 L624.34,71.44 L624.76,72.08 L625.17,72.73 L625.59,73.38 L626.00,74.03 L626.40,74.68 L626.81,75.33 L627.20,75.99 L627.60,76.65 L627.99,77.31 L628.38,77.97 L628.76,78.63 L629.14,79.29 L629.51,79.96 L629.89,80.63 L630.25,81.30 L630.62,81.97 L630.98,82.65 L631.33,83.32 L631.69,84.00 L632.03,84.68 L632.38,85.36 L632.72,86.04 L633.06,86.72 L633.39,87.41 L633.72,88.09 L634.04,88.78 L634.36,89.47 L634.68,90.16 L634.99,90.86 L635.30,91.55 L635.61,92.25 L635.91,92.94 L636.20,93.64 L636.50,94.34 L636.79,95.04 L637.07,95.75 L637.35,96.45 L637.63,97.15 L637.90,97.86 L638.17,98.57 L638.43,99.28 L638.69,99.99 L638.95,100.70 L639.20,101.41 L639.45,102.13 L639.69,102.84 L639.93,103.56 L640.17,104.28 L640.40,104.99 L640.63,105.71 L640.85,106.43 L641.07,107.16 L641.29,107.88 L641.50,108.60 L641.70,109.33 L641.91,110.05 L642.10,110.78 L642.30,111.51 L642.49,112.24 L642.67,112.96 L642.86,113.69 L643.03,114.43 L643.21,115.16 L643.38,115.89 L643.54,116.62 L643.70,117.36 L643.86,118.09 L644.01,118.83 L644.16,119.56 L644.30,120.30 L644.44,121.04 L644.50,121.78 L644.50,122.52 L644.50,123.26 L644.50,124.00 L644.50,124.74 L644.50,125.48 L644.50,126.22 L644.50,126.96 L644.50,127.71 L644.50,128.45 L644.50,129.19 L644.50,129.94 L644.50,130.68 L644.50,131.43 L644.50,132.17 L644.50,132.92 L644.50,133.66 L644.50,134.41 L644.50,135.16 L644.50,135.90 L644.50,136.65 L644.50,137.40 L644.50,138.15 L644.50,138.89 L644.50,139.64 L644.50,140.39 L644.50,141.14 L644.50,141.89 L644.50,142.63 L644.50,143.38 L644.50,144.13 L644.50,144.88 M400.82,91.70 L400.82,90.89 L400.83,90.08 L400.85,89.26 L400.88,88.45 L400.91,87.64 L400.94,86.83 L400.99,86.02 L401.04,85.21 L401.10,84.40 L401.16,83.59 L401.24,82.78 L401.32,81.97 L401.40,81.16 L401.49,80.36 L401.59,79.55 L401.70,78.75 L401.81,77.95 L401.93,77.14 L402.06,76.34 L402.19,75.54 L402.33,74.74 L402.48,73.95 L402.63,73.15 L402.79,72.36 L402.96,71.57 L403.14,70.78 L403.32,69.99 L403.50,69.20 L403.70,68.41 L403.90,67.63 L404.11,66.85 L404.32,66.07 L404.54,65.29 L404.77,64.52 L405.00,63.75 L405.24,62.97 L405.49,62.21 L405.74,61.44 L406.00,60.68 L406.27,59.92 L406.54,59.16 L406.82,58.40 L407.10,57.65 L407.40,56.90 L407.69,56.15 L408.00,55.41 L408.31,54.67 L408.63,53.93 L408.95,53.20 L409.28,52.46 L409.61,51.74 L409.95,51.01 L410.30,50.29 L410.66,49.57 L411.02,48.85 L411.38,48.14 L411.76,47.44 L412.13,46.73 L412.52,46.03 L412.91,45.33 L413.30,44.64 L413.70,43.95 L414.11,43.27 L414.53,42.59 L414.94,41.91 L415.37,41.24 L415.80,40.57 L416.24,39.90 L416.68,39.24 L417.12,38.59 L417.58,37.93 L418.04,37.29 L418.50,36.64 L418.97,36.00 L419.44,35.37 L419.92,34.74 L420.41,34.12 L420.90,33.50 L421.40,32.88 L421.90,32.27 L422.40,31.67 L422.91,31.07 L423.43,30.47 L423.95,29.88 L424.48,29.30 L425.01,28.72 L425.55,28.14 L426.09,27.57 L426.63,27.01 L427.18,26.45 L427.74,25.90 L428.30,25.35 L428.86,24.81 L429.43,24.27 L430.01,23.74 L430.58,23.21 L431.17,22.69 L431.75,22.18 L432.34,21.67 L432.94,21.16 L433.54,20.67 L434.14,20.17 L434.75,19.69 L435.36,19.21 L435.98,18.73 L436.60,18.27 L437.23,17.81 L437.85,17.35 L438.49,16.90 L439.12,16.46 L439.76,16.02 L440.40,15.59 L441.05,15.16 L441.70,14.75 L442.35,14.33 L443.01,13.93 L443.67,13.53 L444.34,13.14 L445.00,12.75 L445.67,12.37 L446.35,12.00 L447.03,11.63 L447.71,11.27 L448.39,10.91 L449.07,10.57 L449.76,10.23 L450.46,9.89 L451.15,9.57 L451.85,9.25 L452.55,8.93 L453.25,8.63 L453.96,8.33 L454.66,8.03 L455.37,7.75 L456.09,7.47 L456.80,7.20 L457.52,6.93 L458.24,6.67 L458.96,6.42 L459.68,6.18 L460.41,5.94 L461.14,5.71 L461.87,5.49 L462.60,5.27 L463.33,5.06 L464.07,4.86 L464.80,4.67 L465.54,4.48 L466.28,4.30 L467.02,4.13 L467.76,3.96 L468.51,3.80 L469.25,3.65 L470.00,3.51 L470.75,3.50 L471.50,3.50 L472.25,3.50 L473.00,3.50 L473.75,3.50 L474.50,3.50 L475.26,3.50 L476.01,3.50 L476.77,3.50 L477.52,3.50 L478.28,3.50 L479.04,3.50 L479.79,3.50 L480.55,3.50 L481.31,3.50 L482.07,3.50 L482.83,3.50 L483.59,3.50 L484.34,3.50 L485.10,3.50 L485.86,3.50 L486.62,3.50 L487.38,3.50 M454.25,146.62 L453.48,146.64 L452.72,146.65 L451.95,146.65 L451.19,146.63 L450.42,146.61 L449.65,146.57 L448.89,146.52 L448.13,146.46 L447.36,146.38 L446.60,146.30 L445.84,146.20 L445.08,146.09 L444.32,145.97 L443.57,145.84 L442.81,145.69 L442.06,145.53 L441.31,145.36 L440.57,145.18 L439.82,144.99 L439.08,144.79 L438.34,144.57 L437.61,144.34 L436.87,144.11 L436.14,143.85 L435.42,143.59 L434.70,143.32 L433.98,143.04 L433.27,142.74 L432.56,142.43 L431.85,142.12 L431.15,141.79 L430.46,141.45 L429.77,141.10 L429.08,140.73 L428.40,140.36 L427.72,139.98 L427.05,139.59 L426.39,139.18 L425.73,138.77 L425.08,138.34 L424.43,137.91 L423.79,137.46 L423.16,137.01 L422.53,136.54 L421.91,136.07 L421.30,135.59 L420.69,135.09 L420.09,134.59 L419.49,134.08 L418.91,133.55 L418.33,133.02 L417.76,132.48 L417.20,131.93 L416.64,131.37 L416.09,130.81 L415.55,130.23 L415.02,129.65 L414.50,129.06 L413.98,128.46 L413.48,127.85 L412.98,127.23 L412.49,126.61 L412.01,125.98 L411.54,125.34 L411.07,124.70 L410.62,124.04 L410.18,123.38 L409.74,122.71 L409.32,122.04 L408.90,121.36 L408.50,120.67 L408.10,119.98 L407.71,119.28 L407.33,118.58 L406.97,117.86 L406.61,117.15 L406.26,116.43 L405.93,115.70 L405.60,114.96 L405.29,114.23 L404.98,113.48 L404.68,112.74 L404.40,111.98 L404.13,111.23 L403.86,110.47 L403.61,109.70 L403.37,108.93 L403.14,108.16 L402.92,107.38 L402.71,106.61 L402.51,105.82 L402.32,105.04 L402.15,104.25 L401.98,103.46 L401.83,102.66 L401.68,101.87 L401.55,101.07 L401.43,100.27 L401.32,99.47 L401.23,98.67 L401.14,97.86 L401.06,97.05 L401.00,96.25 L400.95,95.44 L400.91,94.63 L400.88,93.82 L400.86,93.01 L400.85,92.20 L400.85,91.39 L400.87,90.58 L400.90,89.77 L400.94,88.96 L400.99,88.15 L401.05,87.35 M495.46,111.23 L495.48,111.98 L495.48,112.73 L495.46,113.47 L495.43,114.22 L495.38,114.96 L495.31,115.70 L495.22,116.44 L495.11,117.18 L494.99,117.92 L494.85,118.65 L494.69,119.39 L494.52,120.11 L494.32,120.84 L494.11,121.56 L493.88,122.28 L493.64,122.99 L493.38,123.70 L493.10,124.40 L492.80,125.10 L492.49,125.79 L492.16,126.47 L491.81,127.15 L491.45,127.82 L491.07,128.48 L490.67,129.14 L490.26,129.79 L489.84,130.43 L489.40,131.06 L488.94,131.68 L488.47,132.30 L487.99,132.90 L487.49,133.50 L486.97,134.08 L486.44,134.66 L485.90,135.23 L485.35,135.78 L484.78,136.32 L484.19,136.86 L483.60,137.38 L482.99,137.89 L482.37,138.39 L481.74,138.87 L481.10,139.34 L480.45,139.81 L479.78,140.25 L479.11,140.69 L478.42,141.11 L477.73,141.52 L477.02,141.91 L476.31,142.30 L475.58,142.66 L474.85,143.02 L474.11,143.36 L473.36,143.68 L472.61,143.99 L471.84,144.29 L471.07,144.57 L470.29,144.83 L469.51,145.08 L468.72,145.32 L467.93,145.54 L467.13,145.74 L466.32,145.93 L465.51,146.11 L464.70,146.26 L463.88,146.41 L463.06,146.53 L462.24,146.64 L461.42,146.74 L460.59,146.82 L459.76,146.88 L458.93,146.92 L458.10,146.95 L457.27,146.97 L456.44,146.97 L455.61,146.95 M473.03,91.21 L473.89,91.20 L474.75,91.22 L475.60,91.26 L476.45,91.34 L477.30,91.44 L478.15,91.58 L478.98,91.74 L479.81,91.93 L480.63,92.14 L481.44,92.39 L482.23,92.66 L483.02,92.96 L483.79,93.28 L484.54,93.63 L485.28,94.01 L486.00,94.41 L486.70,94.83 L487.39,95.28 L488.05,95.75 L488.69,96.25 L489.31,96.76 L489.90,97.29 L490.47,97.85 L491.01,98.42 L491.53,99.01 L492.02,99.62 L492.48,100.24 L492.92,100.88 L493.32,101.54 L493.70,102.20 L494.04,102.88 L494.36,103.57 L494.64,104.27 L494.89,104.98 L495.11,105.70 L495.30,106.42 L495.45,107.15 L495.57,107.88 L495.66,108.62 L495.71,109.36 L495.73,110.10 L495.72,110.84 M459.01,104.45 L459.00,103.69 L459.05,102.93 L459.14,102.17 L459.28,101.42 L459.46,100.68 L459.70,99.95 L459.97,99.24 L460.30,98.54 L460.66,97.85 L461.07,97.19 L461.52,96.56 L462.01,95.95 L462.54,95.36 L463.10,94.81 L463.70,94.29 L464.33,93.80 L464.98,93.34 L465.67,92.92 L466.38,92.54 L467.11,92.20 L467.87,91.90 L468.64,91.65 L469.43,91.43 L470.23,91.26 L471.03,91.13 L471.85,91.04 L472.67,91.00 L473.49,91.01 M467.28,112.00 L466.62,111.99 L465.97,111.93 L465.32,111.82 L464.69,111.66 L464.07,111.44 L463.47,111.18 L462.89,110.86 L462.34,110.50 L461.83,110.10 L461.34,109.66 L460.90,109.17 L460.50,108.66 L460.14,108.11 L459.82,107.53 L459.56,106.93 L459.34,106.31 L459.18,105.68 L459.07,105.03 L459.01,104.38 L459.00,103.72 M644.5,117 L644.5,147" fill="none" stroke="#f06868" stroke-width="1.2" />
</g>
<g shape-rendering="crispEdges">
<rect x="2" y="2" width="644" height="1" fill="#4a3434"/>
<rect x="2" y="2" width="1" height="378" fill="#4a3434"/>
<rect x="2" y="379" width="644" height="1" fill="#000"/>
<rect x="645" y="2" width="1" height="378" fill="#000"/>
<rect x="3" y="380" width="1" height="3" fill="#000"/>
<rect x="67" y="380" width="1" height="3" fill="#000"/>
<rect x="131" y="380" width="1" height="3" fill="#000"/>
<rect x="195" y="380" width="1" height="3" fill="#000"/>
<rect x="259" y="380" width="1" height="3" fill="#000"/>
<rect x="323" y="380" width="1" height="3" fill="#000"/>
<rect x="387" y="380" width="1" height="3" fill="#000"/>
<rect x="451" y="380" width="1" height="3" fill="#000"/>
<rect x="515" y="380" width="1" height="3" fill="#000"/>
<rect x="579" y="380" width="1" height="3" fill="#000"/>
</g>
<g shape-rendering="crispEdges">
<rect x="646" y="32" width="3" height="1" fill="#000"/>
<path d="M653 29h1v1h-1zM652 30h1v1h-1zM653 30h1v1h-1zM653 31h1v1h-1zM653 32h1v1h-1zM653 33h1v1h-1zM653 34h1v1h-1zM652 35h1v1h-1zM653 35h1v1h-1zM654 35h1v1h-1zM658 29h1v1h-1zM657 30h1v1h-1zM658 30h1v1h-1zM658 31h1v1h-1zM658 32h1v1h-1zM658 33h1v1h-1zM658 34h1v1h-1zM657 35h1v1h-1zM658 35h1v1h-1zM659 35h1v1h-1zM663 29h1v1h-1zM662 30h1v1h-1zM663 30h1v1h-1zM663 31h1v1h-1zM663 32h1v1h-1zM663 33h1v1h-1zM663 34h1v1h-1zM662 35h1v1h-1zM663 35h1v1h-1zM664 35h1v1h-1zM667 34h1v1h-1zM667 35h1v1h-1zM669 29h1v1h-1zM670 29h1v1h-1zM671 29h1v1h-1zM672 29h1v1h-1zM672 30h1v1h-1zM672 31h1v1h-1zM671 32h1v1h-1zM671 33h1v1h-1zM670 34h1v1h-1zM670 35h1v1h-1zM674 29h1v1h-1zM675 29h1v1h-1zM676 29h1v1h-1zM677 29h1v1h-1zM674 30h1v1h-1zM674 31h1v1h-1zM675 31h1v1h-1zM676 31h1v1h-1zM677 32h1v1h-1zM677 33h1v1h-1zM677 34h1v1h-1zM674 35h1v1h-1zM675 35h1v1h-1zM676 35h1v1h-1z" fill="#000"/>
<rect x="646" y="66" width="3" height="1" fill="#000"/>
<path d="M653 63h1v1h-1zM652 64h1v1h-1zM653 64h1v1h-1zM653 65h1v1h-1zM653 66h1v1h-1zM653 67h1v1h-1zM653 68h1v1h-1zM652 69h1v1h-1zM653 69h1v1h-1zM654 69h1v1h-1zM658 63h1v1h-1zM657 64h1v1h-1zM658 64h1v1h-1zM658 65h1v1h-1zM658 66h1v1h-1zM658 67h1v1h-1zM658 68h1v1h-1zM657 69h1v1h-1zM658 69h1v1h-1zM659 69h1v1h-1zM663 63h1v1h-1zM662 64h1v1h-1zM663 64h1v1h-1zM663 65h1v1h-1zM663 66h1v1h-1zM663 67h1v1h-1zM663 68h1v1h-1zM662 69h1v1h-1zM663 69h1v1h-1zM664 69h1v1h-1zM667 68h1v1h-1zM667 69h1v1h-1zM672 63h1v1h-1zM671 64h1v1h-1zM672 64h1v1h-1zM670 65h1v1h-1zM672 65h1v1h-1zM669 66h1v1h-1zM672 66h1v1h-1zM669 67h1v1h-1zM670 67h1v1h-1zM671 67h1v1h-1zM672 67h1v1h-1zM672 68h1v1h-1zM672 69h1v1h-1zM674 63h1v1h-1zM675 63h1v1h-1zM676 63h1v1h-1zM677 63h1v1h-1zM674 64h1v1h-1zM674 65h1v1h-1zM675 65h1v1h-1zM676 65h1v1h-1zM677 66h1v1h-1zM677 67h1v1h-1zM677 68h1v1h-1zM674 69h1v1h-1zM675 69h1v1h-1zM676 69h1v1h-1z" fill="#000"/>
<rect x="646" y="100" width="3" height="1" fill="#000"/>
<path d="M653 97h1v1h-1zM652 98h1v1h-1zM653 98h1v1h-1zM653 99h1v1h-1zM653 100h1v1h-1zM653 101h1v1h-1zM653 102h1v1h-1zM652 103h1v1h-1zM653 103h1v1h-1zM654 103h1v1h-1zM658 97h1v1h-1zM657 98h1v1h-1zM658 98h1v1h-1zM658 99h1v1h-1zM658 100h1v1h-1zM658 101h1v1h-1zM658 102h1v1h-1zM657 103h1v1h-1zM658 103h1v1h-1zM659 103h1v1h-1zM663 97h1v1h-1zM662 98h1v1h-1zM663 98h1v1h-1zM663 99h1v1h-1zM663 100h1v1h-1zM663 101h1v1h-1zM663 102h1v1h-1zM662 103h1v1h-1zM663 103h1v1h-1zM664 103h1v1h-1zM667 102h1v1h-1zM667 103h1v1h-1zM671 97h1v1h-1zM670 98h1v1h-1zM671 98h1v1h-1zM671 99h1v1h-1zM671 100h1v1h-1zM671 101h1v1h-1zM671 102h1v1h-1zM670 103h1v1h-1zM671 103h1v1h-1zM672 103h1v1h-1zM674 97h1v1h-1zM675 97h1v1h-1zM676 97h1v1h-1zM677 97h1v1h-1zM674 98h1v1h-1zM674 99h1v1h-1zM675 99h1v1h-1zM676 99h1v1h-1zM677 100h1v1h-1zM677 101h1v1h-1zM677 102h1v1h-1zM674 103h1v1h-1zM675 103h1v1h-1zM676 103h1v1h-1z" fill="#000"/>
<rect x="646" y="134" width="3" height="1" fill="#000"/>
<path d="M653 131h1v1h-1zM652 132h1v1h-1zM653 132h1v1h-1zM653 133h1v1h-1zM653 134h1v1h-1zM653 135h1v1h-1zM653 136h1v1h-1zM652 137h1v1h-1zM653 137h1v1h-1zM654 137h1v1h-1zM658 131h1v1h-1zM657 132h1v1h-1zM658 132h1v1h-1zM658 133h1v1h-1zM658 134h1v1h-1zM658 135h1v1h-1zM658 136h1v1h-1zM657 137h1v1h-1zM658 137h1v1h-1zM659 137h1v1h-1zM662 131h1v1h-1zM663 131h1v1h-1zM661 132h1v1h-1zM664 132h1v1h-1zM661 133h1v1h-1zM664 133h1v1h-1zM661 134h1v1h-1zM664 134h1v1h-1zM661 135h1v1h-1zM664 135h1v1h-1zM661 136h1v1h-1zM664 136h1v1h-1zM662 137h1v1h-1zM663 137h1v1h-1zM667 136h1v1h-1zM667 137h1v1h-1zM670 131h1v1h-1zM671 131h1v1h-1zM669 132h1v1h-1zM672 132h1v1h-1zM669 133h1v1h-1zM672 133h1v1h-1zM670 134h1v1h-1zM671 134h1v1h-1zM669 135h1v1h-1zM672 135h1v1h-1zM669 136h1v1h-1zM672 136h1v1h-1zM670 137h1v1h-1zM671 137h1v1h-1zM674 131h1v1h-1zM675 131h1v1h-1zM676 131h1v1h-1zM677 131h1v1h-1zM674 132h1v1h-1zM674 133h1v1h-1zM675 133h1v1h-1zM676 133h1v1h-1zM677 134h1v1h-1zM677 135h1v1h-1zM677 136h1v1h-1zM674 137h1v1h-1zM675 137h1v1h-1zM676 137h1v1h-1z" fill="#000"/>
<rect x="646" y="168" width="3" height="1" fill="#000"/>
<path d="M653 165h1v1h-1zM652 166h1v1h-1zM653 166h1v1h-1zM653 167h1v1h-1zM653 168h1v1h-1zM653 169h1v1h-1zM653 170h1v1h-1zM652 171h1v1h-1zM653 171h1v1h-1zM654 171h1v1h-1zM658 165h1v1h-1zM657 166h1v1h-1zM658 166h1v1h-1zM658 167h1v1h-1zM658 168h1v1h-1zM658 169h1v1h-1zM658 170h1v1h-1zM657 171h1v1h-1zM658 171h1v1h-1zM659 171h1v1h-1zM662 165h1v1h-1zM663 165h1v1h-1zM661 166h1v1h-1zM664 166h1v1h-1zM661 167h1v1h-1zM664 167h1v1h-1zM661 168h1v1h-1zM664 168h1v1h-1zM661 169h1v1h-1zM664 169h1v1h-1zM661 170h1v1h-1zM664 170h1v1h-1zM662 171h1v1h-1zM663 171h1v1h-1zM667 170h1v1h-1zM667 171h1v1h-1zM669 165h1v1h-1zM670 165h1v1h-1zM671 165h1v1h-1zM672 165h1v1h-1zM669 166h1v1h-1zM669 167h1v1h-1zM670 167h1v1h-1zM671 167h1v1h-1zM672 168h1v1h-1zM672 169h1v1h-1zM672 170h1v1h-1zM669 171h1v1h-1zM670 171h1v1h-1zM671 171h1v1h-1zM674 165h1v1h-1zM675 165h1v1h-1zM676 165h1v1h-1zM677 165h1v1h-1zM674 166h1v1h-1zM674 167h1v1h-1zM675 167h1v1h-1zM676 167h1v1h-1zM677 168h1v1h-1zM677 169h1v1h-1zM677 170h1v1h-1zM674 171h1v1h-1zM675 171h1v1h-1zM676 171h1v1h-1z" fill="#000"/>
<rect x="646" y="202" width="3" height="1" fill="#000"/>
<path d="M653 199h1v1h-1zM652 200h1v1h-1zM653 200h1v1h-1zM653 201h1v1h-1zM653 202h1v1h-1zM653 203h1v1h-1zM653 204h1v1h-1zM652 205h1v1h-1zM653 205h1v1h-1zM654 205h1v1h-1zM658 199h1v1h-1zM657 200h1v1h-1zM658 200h1v1h-1zM658 201h1v1h-1zM658 202h1v1h-1zM658 203h1v1h-1zM658 204h1v1h-1zM657 205h1v1h-1zM658 205h1v1h-1zM659 205h1v1h-1zM662 199h1v1h-1zM663 199h1v1h-1zM661 200h1v1h-1zM664 200h1v1h-1zM661 201h1v1h-1zM664 201h1v1h-1zM661 202h1v1h-1zM664 202h1v1h-1zM661 203h1v1h-1zM664 203h1v1h-1zM661 204h1v1h-1zM664 204h1v1h-1zM662 205h1v1h-1zM663 205h1v1h-1zM667 204h1v1h-1zM667 205h1v1h-1zM670 199h1v1h-1zM671 199h1v1h-1zM669 200h1v1h-1zM672 200h1v1h-1zM672 201h1v1h-1zM671 202h1v1h-1zM670 203h1v1h-1zM669 204h1v1h-1zM669 205h1v1h-1zM670 205h1v1h-1zM671 205h1v1h-1zM672 205h1v1h-1zM674 199h1v1h-1zM675 199h1v1h-1zM676 199h1v1h-1zM677 199h1v1h-1zM674 200h1v1h-1zM674 201h1v1h-1zM675 201h1v1h-1zM676 201h1v1h-1zM677 202h1v1h-1zM677 203h1v1h-1zM677 204h1v1h-1zM674 205h1v1h-1zM675 205h1v1h-1zM676 205h1v1h-1z" fill="#000"/>
<rect x="646" y="236" width="3" height="1" fill="#000"/>
<path d="M653 233h1v1h-1zM652 234h1v1h-1zM653 234h1v1h-1zM653 235h1v1h-1zM653 236h1v1h-1zM653 237h1v1h-1zM653 238h1v1h-1zM652 239h1v1h-1zM653 239h1v1h-1zM654 239h1v1h-1zM657 233h1v1h-1zM658 233h1v1h-1zM656 234h1v1h-1zM659 234h1v1h-1zM656 235h1v1h-1zM659 235h1v1h-1zM656 236h1v1h-1zM659 236h1v1h-1zM656 237h1v1h-1zM659 237h1v1h-1zM656 238h1v1h-1zM659 238h1v1h-1zM657 239h1v1h-1zM658 239h1v1h-1zM662 233h1v1h-1zM663 233h1v1h-1zM661 234h1v1h-1zM664 234h1v1h-1zM661 235h1v1h-1zM664 235h1v1h-1zM662 236h1v1h-1zM663 236h1v1h-1zM664 236h1v1h-1zM664 237h1v1h-1zM664 238h1v1h-1zM661 239h1v1h-1zM662 239h1v1h-1zM663 239h1v1h-1zM667 238h1v1h-1zM667 239h1v1h-1zM670 233h1v1h-1zM671 233h1v1h-1zM669 234h1v1h-1zM672 234h1v1h-1zM669 235h1v1h-1zM672 235h1v1h-1zM670 236h1v1h-1zM671 236h1v1h-1zM672 236h1v1h-1zM672 237h1v1h-1zM672 238h1v1h-1zM669 239h1v1h-1zM670 239h1v1h-1zM671 239h1v1h-1zM674 233h1v1h-1zM675 233h1v1h-1zM676 233h1v1h-1zM677 233h1v1h-1zM674 234h1v1h-1zM674 235h1v1h-1zM675 235h1v1h-1zM676 235h1v1h-1zM677 236h1v1h-1zM677 237h1v1h-1zM677 238h1v1h-1zM674 239h1v1h-1zM675 239h1v1h-1zM676 239h1v1h-1z" fill="#000"/>
<rect x="646" y="271" width="3" height="1" fill="#000"/>
<path d="M653 268h1v1h-1zM652 269h1v1h-1zM653 269h1v1h-1zM653 270h1v1h-1zM653 271h1v1h-1zM653 272h1v1h-1zM653 273h1v1h-1zM652 274h1v1h-1zM653 274h1v1h-1zM654 274h1v1h-1zM657 268h1v1h-1zM658 268h1v1h-1zM656 269h1v1h-1zM659 269h1v1h-1zM656 270h1v1h-1zM659 270h1v1h-1zM656 271h1v1h-1zM659 271h1v1h-1zM656 272h1v1h-1zM659 272h1v1h-1zM656 273h1v1h-1zM659 273h1v1h-1zM657 274h1v1h-1zM658 274h1v1h-1zM662 268h1v1h-1zM663 268h1v1h-1zM661 269h1v1h-1zM664 269h1v1h-1zM661 270h1v1h-1zM664 270h1v1h-1zM662 271h1v1h-1zM663 271h1v1h-1zM664 271h1v1h-1zM664 272h1v1h-1zM664 273h1v1h-1zM661 274h1v1h-1zM662 274h1v1h-1zM663 274h1v1h-1zM667 273h1v1h-1zM667 274h1v1h-1zM670 268h1v1h-1zM671 268h1v1h-1zM669 269h1v1h-1zM669 270h1v1h-1zM669 271h1v1h-1zM670 271h1v1h-1zM671 271h1v1h-1zM669 272h1v1h-1zM672 272h1v1h-1zM669 273h1v1h-1zM672 273h1v1h-1zM670 274h1v1h-1zM671 274h1v1h-1zM674 268h1v1h-1zM675 268h1v1h-1zM676 268h1v1h-1zM677 268h1v1h-1zM674 269h1v1h-1zM674 270h1v1h-1zM675 270h1v1h-1zM676 270h1v1h-1zM677 271h1v1h-1zM677 272h1v1h-1zM677 273h1v1h-1zM674 274h1v1h-1zM675 274h1v1h-1zM676 274h1v1h-1z" fill="#000"/>
<rect x="646" y="305" width="3" height="1" fill="#000"/>
<path d="M653 302h1v1h-1zM652 303h1v1h-1zM653 303h1v1h-1zM653 304h1v1h-1zM653 305h1v1h-1zM653 306h1v1h-1zM653 307h1v1h-1zM652 308h1v1h-1zM653 308h1v1h-1zM654 308h1v1h-1zM657 302h1v1h-1zM658 302h1v1h-1zM656 303h1v1h-1zM659 303h1v1h-1zM656 304h1v1h-1zM659 304h1v1h-1zM656 305h1v1h-1zM659 305h1v1h-1zM656 306h1v1h-1zM659 306h1v1h-1zM656 307h1v1h-1zM659 307h1v1h-1zM657 308h1v1h-1zM658 308h1v1h-1zM662 302h1v1h-1zM663 302h1v1h-1zM661 303h1v1h-1zM664 303h1v1h-1zM661 304h1v1h-1zM664 304h1v1h-1zM662 305h1v1h-1zM663 305h1v1h-1zM664 305h1v1h-1zM664 306h1v1h-1zM664 307h1v1h-1zM661 308h1v1h-1zM662 308h1v1h-1zM663 308h1v1h-1zM667 307h1v1h-1zM667 308h1v1h-1zM669 302h1v1h-1zM670 302h1v1h-1zM671 302h1v1h-1zM672 303h1v1h-1zM672 304h1v1h-1zM670 305h1v1h-1zM671 305h1v1h-1zM672 306h1v1h-1zM672 307h1v1h-1zM669 308h1v1h-1zM670 308h1v1h-1zM671 308h1v1h-1zM674 302h1v1h-1zM675 302h1v1h-1zM676 302h1v1h-1zM677 302h1v1h-1zM674 303h1v1h-1zM674 304h1v1h-1zM675 304h1v1h-1zM676 304h1v1h-1zM677 305h1v1h-1zM677 306h1v1h-1zM677 307h1v1h-1zM674 308h1v1h-1zM675 308h1v1h-1zM676 308h1v1h-1z" fill="#000"/>
<rect x="646" y="339" width="3" height="1" fill="#000"/>
<path d="M653 336h1v1h-1zM652 337h1v1h-1zM653 337h1v1h-1zM653 338h1v1h-1zM653 339h1v1h-1zM653 340h1v1h-1zM653 341h1v1h-1zM652 342h1v1h-1zM653 342h1v1h-1zM654 342h1v1h-1zM657 336h1v1h-1zM658 336h1v1h-1zM656 337h1v1h-1zM659 337h1v1h-1zM656 338h1v1h-1zM659 338h1v1h-1zM656 339h1v1h-1zM659 339h1v1h-1zM656 340h1v1h-1zM659 340h1v1h-1zM656 341h1v1h-1zM659 341h1v1h-1zM657 342h1v1h-1zM658 342h1v1h-1zM662 336h1v1h-1zM663 336h1v1h-1zM661 337h1v1h-1zM664 337h1v1h-1zM661 338h1v1h-1zM664 338h1v1h-1zM662 339h1v1h-1zM663 339h1v1h-1zM664 339h1v1h-1zM664 340h1v1h-1zM664 341h1v1h-1zM661 342h1v1h-1zM662 342h1v1h-1zM663 342h1v1h-1zM667 341h1v1h-1zM667 342h1v1h-1zM670 336h1v1h-1zM671 336h1v1h-1zM669 337h1v1h-1zM672 337h1v1h-1zM669 338h1v1h-1zM672 338h1v1h-1zM669 339h1v1h-1zM672 339h1v1h-1zM669 340h1v1h-1zM672 340h1v1h-1zM669 341h1v1h-1zM672 341h1v1h-1zM670 342h1v1h-1zM671 342h1v1h-1zM674 336h1v1h-1zM675 336h1v1h-1zM676 336h1v1h-1zM677 336h1v1h-1zM674 337h1v1h-1zM674 338h1v1h-1zM675 338h1v1h-1zM676 338h1v1h-1zM677 339h1v1h-1zM677 340h1v1h-1zM677 341h1v1h-1zM674 342h1v1h-1zM675 342h1v1h-1zM676 342h1v1h-1z" fill="#000"/>
<rect x="646" y="373" width="3" height="1" fill="#000"/>
<path d="M653 370h1v1h-1zM652 371h1v1h-1zM653 371h1v1h-1zM653 372h1v1h-1zM653 373h1v1h-1zM653 374h1v1h-1zM653 375h1v1h-1zM652 376h1v1h-1zM653 376h1v1h-1zM654 376h1v1h-1zM657 370h1v1h-1zM658 370h1v1h-1zM656 371h1v1h-1zM659 371h1v1h-1zM656 372h1v1h-1zM659 372h1v1h-1zM656 373h1v1h-1zM659 373h1v1h-1zM656 374h1v1h-1zM659 374h1v1h-1zM656 375h1v1h-1zM659 375h1v1h-1zM657 376h1v1h-1zM658 376h1v1h-1zM662 370h1v1h-1zM663 370h1v1h-1zM661 371h1v1h-1zM664 371h1v1h-1zM661 372h1v1h-1zM664 372h1v1h-1zM662 373h1v1h-1zM663 373h1v1h-1zM661 374h1v1h-1zM664 374h1v1h-1zM661 375h1v1h-1zM664 375h1v1h-1zM662 376h1v1h-1zM663 376h1v1h-1zM667 375h1v1h-1zM667 376h1v1h-1zM669 370h1v1h-1zM670 370h1v1h-1zM671 370h1v1h-1zM672 370h1v1h-1zM672 371h1v1h-1zM672 372h1v1h-1zM671 373h1v1h-1zM671 374h1v1h-1zM670 375h1v1h-1zM670 376h1v1h-1zM674 370h1v1h-1zM675 370h1v1h-1zM676 370h1v1h-1zM677 370h1v1h-1zM674 371h1v1h-1zM674 372h1v1h-1zM675 372h1v1h-1zM676 372h1v1h-1zM677 373h1v1h-1zM677 374h1v1h-1zM677 375h1v1h-1zM674 376h1v1h-1zM675 376h1v1h-1zM676 376h1v1h-1z" fill="#000"/>
<rect x="648" y="64" width="34" height="11" fill="#000"/>
<path d="M653 66h1v1h-1zM652 67h1v1h-1zM653 67h1v1h-1zM653 68h1v1h-1zM653 69h1v1h-1zM653 70h1v1h-1zM653 71h1v1h-1zM652 72h1v1h-1zM653 72h1v1h-1zM654 72h1v1h-1zM658 66h1v1h-1zM657 67h1v1h-1zM658 67h1v1h-1zM658 68h1v1h-1zM658 69h1v1h-1zM658 70h1v1h-1zM658 71h1v1h-1zM657 72h1v1h-1zM658 72h1v1h-1zM659 72h1v1h-1zM663 66h1v1h-1zM662 67h1v1h-1zM663 67h1v1h-1zM663 68h1v1h-1zM663 69h1v1h-1zM663 70h1v1h-1zM663 71h1v1h-1zM662 72h1v1h-1zM663 72h1v1h-1zM664 72h1v1h-1zM667 71h1v1h-1zM667 72h1v1h-1zM672 66h1v1h-1zM671 67h1v1h-1zM672 67h1v1h-1zM670 68h1v1h-1zM672 68h1v1h-1zM669 69h1v1h-1zM672 69h1v1h-1zM669 70h1v1h-1zM670 70h1v1h-1zM671 70h1v1h-1zM672 70h1v1h-1zM672 71h1v1h-1zM672 72h1v1h-1zM675 66h1v1h-1zM676 66h1v1h-1zM674 67h1v1h-1zM677 67h1v1h-1zM677 68h1v1h-1zM676 69h1v1h-1zM675 70h1v1h-1zM674 71h1v1h-1zM674 72h1v1h-1zM675 72h1v1h-1zM676 72h1v1h-1zM677 72h1v1h-1z" fill="#fff"/>
</g>
</svg></body></html>
